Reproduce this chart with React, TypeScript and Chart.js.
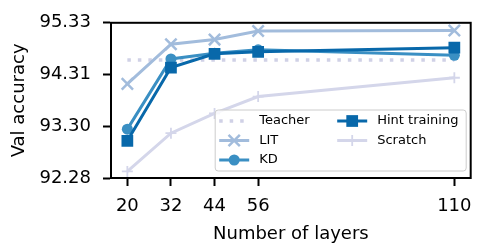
import React, { useEffect, useRef } from "react";
import { Chart, registerables } from "chart.js";

Chart.register(...registerables);

const layers = [20, 32, 44, 56, 110];
const teacher = [94.6, 94.6, 94.6, 94.6, 94.6];
const lit = [94.13, 94.91, 95.0, 95.17, 95.18];
const kd = [93.24, 94.62, 94.73, 94.8, 94.69];
const hint = [93.01, 94.45, 94.72, 94.76, 94.84];
const scratch = [92.41, 93.16, 93.55, 93.88, 94.25];
const yTicks = [92.28, 93.3, 94.31, 95.33];
const xTicks = [20, 32, 44, 56, 110];
const seriesNames = ["Teacher", "LIT", "KD", "Hint training", "Scratch"];

const FONT = "'DejaVu Sans', sans-serif";

function drawMarker(ctx: CanvasRenderingContext2D, style: string, x: number, y: number, r: number, color: string, lw: number) {
  ctx.save();
  ctx.fillStyle = color;
  ctx.strokeStyle = color;
  ctx.lineWidth = lw;
  ctx.setLineDash([]);
  ctx.beginPath();
  if (style === "circle") {
    ctx.arc(x, y, r, 0, Math.PI * 2);
    ctx.fill();
  } else if (style === "rect") {
    const s = Math.SQRT1_2 * r;
    ctx.rect(x - s, y - s, 2 * s, 2 * s);
    ctx.fill();
  } else if (style === "crossRot") {
    const o = Math.SQRT1_2 * r;
    ctx.moveTo(x - o, y - o);
    ctx.lineTo(x + o, y + o);
    ctx.moveTo(x + o, y - o);
    ctx.lineTo(x - o, y + o);
    ctx.stroke();
  } else if (style === "cross") {
    ctx.moveTo(x - r, y);
    ctx.lineTo(x + r, y);
    ctx.moveTo(x, y - r);
    ctx.lineTo(x, y + r);
    ctx.stroke();
  }
  ctx.restore();
}

const boxPlugin = {
  id: "boxSpines",
  afterDraw(chart: any) {
    const { ctx, chartArea: a } = chart;
    ctx.save();
    ctx.strokeStyle = "#000";
    ctx.lineWidth = 2;
    ctx.setLineDash([]);
    ctx.strokeRect(a.left, a.top, a.right - a.left, a.bottom - a.top);

    // legend
    const left = a.right - 255.5;
    const top = a.bottom - 68;
    const w = 251;
    const h = 61;
    ctx.beginPath();
    const rr = 3;
    ctx.moveTo(left + rr, top);
    ctx.lineTo(left + w - rr, top);
    ctx.quadraticCurveTo(left + w, top, left + w, top + rr);
    ctx.lineTo(left + w, top + h - rr);
    ctx.quadraticCurveTo(left + w, top + h, left + w - rr, top + h);
    ctx.lineTo(left + rr, top + h);
    ctx.quadraticCurveTo(left, top + h, left, top + h - rr);
    ctx.lineTo(left, top + rr);
    ctx.quadraticCurveTo(left, top, left + rr, top);
    ctx.closePath();
    ctx.fillStyle = "rgba(255,255,255,0.8)";
    ctx.fill();
    ctx.strokeStyle = "#cccccc";
    ctx.lineWidth = 1;
    ctx.stroke();

    const cols = [left + 4, left + 122];
    const rows = [top + 11, top + 30.5, top + 50];
    const slots = [
      [0, 0],
      [0, 1],
      [0, 2],
      [1, 0],
      [1, 1],
    ];
    ctx.font = "13px " + FONT;
    ctx.textBaseline = "middle";
    ctx.textAlign = "left";
    chart.data.datasets.forEach((ds: any, i: number) => {
      const [c, r] = slots[i];
      const hx = cols[c];
      const hy = rows[r];
      ctx.save();
      ctx.strokeStyle = ds.borderColor;
      ctx.lineWidth = ds.borderWidth;
      ctx.setLineDash(ds.borderDash || []);
      ctx.lineCap = "butt";
      ctx.beginPath();
      ctx.moveTo(hx, hy);
      ctx.lineTo(hx + 30, hy);
      ctx.stroke();
      ctx.restore();
      if (ds.pointRadius > 0) {
        drawMarker(ctx, ds.pointStyle, hx + 15, hy, ds.pointRadius, ds.borderColor, ds.pointBorderWidth);
      }
      ctx.fillStyle = "#000";
      ctx.fillText(ds.label, hx + 40, hy);
    });
    ctx.restore();
  },
};

export default function App() {
  const ref = useRef<HTMLCanvasElement>(null);
  useEffect(() => {
    document.body.style.margin = "0";
    Chart.defaults.font.family = FONT;
    const mk = (i: number, data: number[], color: string, style: string, r: number, lw: number, pbw: number, order: number, dash?: number[]) => ({
      label: seriesNames[i],
      data: layers.map((x, k) => ({ x, y: data[k] })),
      borderColor: color,
      backgroundColor: color,
      borderWidth: lw,
      borderDash: dash,
      borderCapStyle: "butt",
      pointStyle: style,
      pointRadius: r,
      pointHoverRadius: r,
      pointBorderWidth: pbw,
      pointBackgroundColor: color,
      pointBorderColor: color,
      order,
      tension: 0,
    });
    const chart = new Chart(ref.current!, {
      type: "line",
      data: {
        datasets: [
          mk(0, teacher, "#d0d1e6", "circle", 0, 3.5, 0, 5, [3.5, 7]),
          mk(1, lit, "#a2bcdc", "crossRot", 8, 3, 2.5, 4),
          mk(2, kd, "#3a8fc3", "circle", 5.5, 3, 0, 3),
          mk(3, hint, "#0868aa", "rect", 8.3, 3, 0, 2),
          mk(4, scratch, "#d4d6ea", "cross", 5.5, 3, 1.8, 1),
        ] as any,
      },
      options: {
        responsive: false,
        animation: false,
        layout: { padding: { top: 10, right: 3.5, left: 0, bottom: 0 } },
        plugins: { legend: { display: false }, tooltip: { enabled: false } },
        scales: {
          x: {
            type: "linear",
            min: 15.5,
            max: 114.5,
            afterBuildTicks: (s: any) => {
              s.ticks = xTicks.map((v) => ({ value: v }));
            },
            afterFit: (s: any) => {
              s.height = 70;
            },
            ticks: {
              color: "#000",
              font: { size: 18 },
              padding: 10,
              maxRotation: 0,
              autoSkip: false,
              callback: (v: any) => String(v),
            },
            grid: { display: true, drawOnChartArea: false, drawTicks: true, tickLength: 8, tickWidth: 2, tickColor: "#000" },
            border: { display: true, color: "#000", width: 2 },
            title: { display: true, text: "Number of layers", color: "#000", font: { size: 18 }, padding: { top: 0, bottom: 3 } },
          },
          y: {
            type: "linear",
            min: 92.28,
            max: 95.33,
            afterBuildTicks: (s: any) => {
              s.ticks = yTicks.map((v) => ({ value: v }));
            },
            afterFit: (s: any) => {
              s.width = 111;
            },
            ticks: {
              color: "#000",
              font: { size: 18 },
              padding: 12,
              autoSkip: false,
              callback: (v: any) => Number(v).toFixed(2),
            },
            grid: { display: true, drawOnChartArea: false, drawTicks: true, tickLength: 8, tickWidth: 2, tickColor: "#000" },
            border: { display: true, color: "#000", width: 2 },
            title: { display: true, text: "Val accuracy", color: "#000", font: { size: 18 }, padding: { top: 9, bottom: 0 } },
          },
        },
      },
      plugins: [boxPlugin],
    });
    return () => chart.destroy();
  }, []);
  return (
    <div style={{ width: 482, height: 248 }}>
      <canvas ref={ref} width={482} height={248} style={{ display: "block" }} />
    </div>
  );
}
